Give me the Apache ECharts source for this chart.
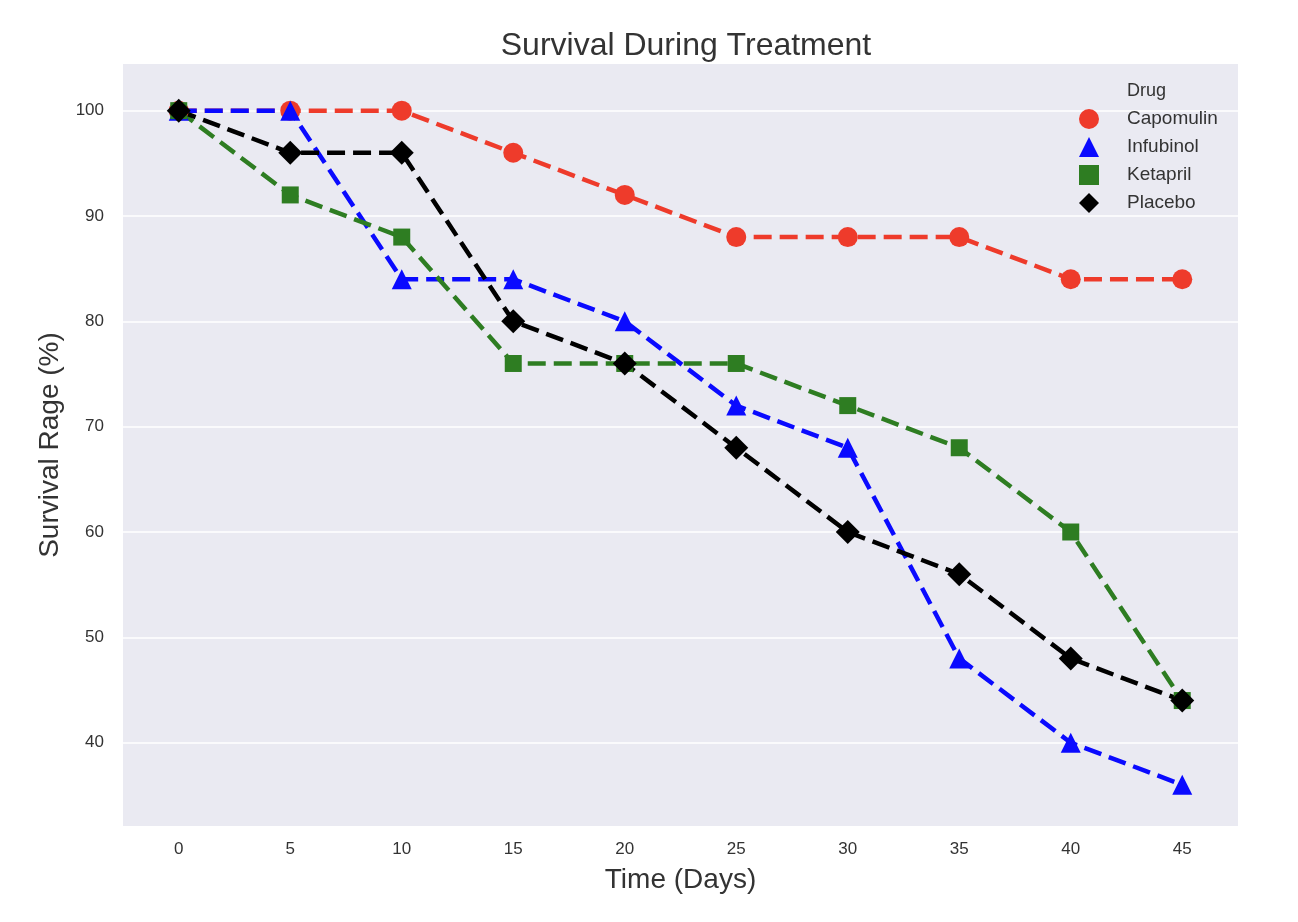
<!DOCTYPE html>
<html>
<head>
<meta charset="utf-8">
<script src="https://cdn.jsdelivr.net/npm/echarts@6/dist/echarts.min.js"></script>
<style>html,body{margin:0;padding:0;background:#fff;}#c{width:1298px;height:922px;}</style>
</head>
<body>
<div id="c"></div>
<script>
const days = ['0','5','10','15','20','25','30','35','40','45'];
const capomulin = [100,100,100,96,92,88,88,88,84,84];
const infubinol = [100,100,84,84,80,72,68,48,40,36];
const ketapril = [100,92,88,76,76,76,72,68,60,44];
const placebo = [100,96,96,80,76,68,60,56,48,44];
const yTicks = [40,50,60,70,80,90,100];
const drugNames = ['Capomulin','Infubinol','Ketapril','Placebo'];

const font = 'Liberation Sans, Arial, sans-serif';
const chart = echarts.init(document.getElementById('c'));
function mk(name, data, color, symbol, size) {
  return {
    name, type: 'line', data, symbol, symbolSize: size,
    itemStyle: {color, opacity: 1},
    lineStyle: {color, width: 4.5, type: [18, 8]},
    emphasis: {disabled: true},
    animation: false
  };
}
chart.setOption({
  animation: false,
  title: {
    text: 'Survival During Treatment', left: 681, textAlign: 'center', top: 25,
    textStyle: {fontFamily: font, fontSize: 32, fontWeight: 'normal', color: '#333'}
  },
  grid: {left: 123, right: 60, top: 64, bottom: 96, show: true, backgroundColor: '#eaeaf2', borderWidth: 0},
  legend: {
    orient: 'vertical', left: 1074, top: 104, itemWidth: 20, itemHeight: 20, itemGap: 8,
    data: [
      {name: drugNames[0], icon: 'circle'},
      {name: drugNames[1], icon: 'triangle'},
      {name: drugNames[2], icon: 'rect'},
      {name: drugNames[3], icon: 'diamond'}
    ],
    textStyle: {fontFamily: font, fontSize: 19, color: '#333', padding: [0,0,0,23]}
  },
  graphic: [{
    type: 'text', left: 1127, top: 82,
    style: {text: 'Drug', font: '18px ' + font, fill: '#333'}
  }],
  xAxis: {
    type: 'category', data: days, boundaryGap: true,
    name: 'Time (Days)', nameLocation: 'middle', nameGap: 40,
    nameTextStyle: {fontFamily: font, fontSize: 28, color: '#333'},
    axisLine: {show: false}, axisTick: {show: false},
    axisLabel: {fontFamily: font, fontSize: 17, color: '#333', margin: 15},
    splitLine: {show: false}
  },
  yAxis: {
    type: 'value', min: 32.09, max: 104.43,
    name: 'Survival Rage (%)', nameLocation: 'middle', nameGap: 58,
    nameTextStyle: {fontFamily: font, fontSize: 28, color: '#333'},
    axisLine: {show: false},
    axisTick: {show: false, customValues: yTicks},
    axisLabel: {fontFamily: font, fontSize: 17, color: '#333', margin: 19, customValues: yTicks},
    splitLine: {show: true, lineStyle: {color: '#ffffff', width: 1.5}}
  },
  series: [
    mk(drugNames[0], capomulin, '#ee3b2b', 'circle', 20),
    mk(drugNames[1], infubinol, '#0a0aff', 'triangle', 20),
    mk(drugNames[2], ketapril, '#2e7d22', 'rect', 17),
    mk(drugNames[3], placebo, '#000000', 'diamond', 24)
  ]
});
</script>
</body>
</html>
